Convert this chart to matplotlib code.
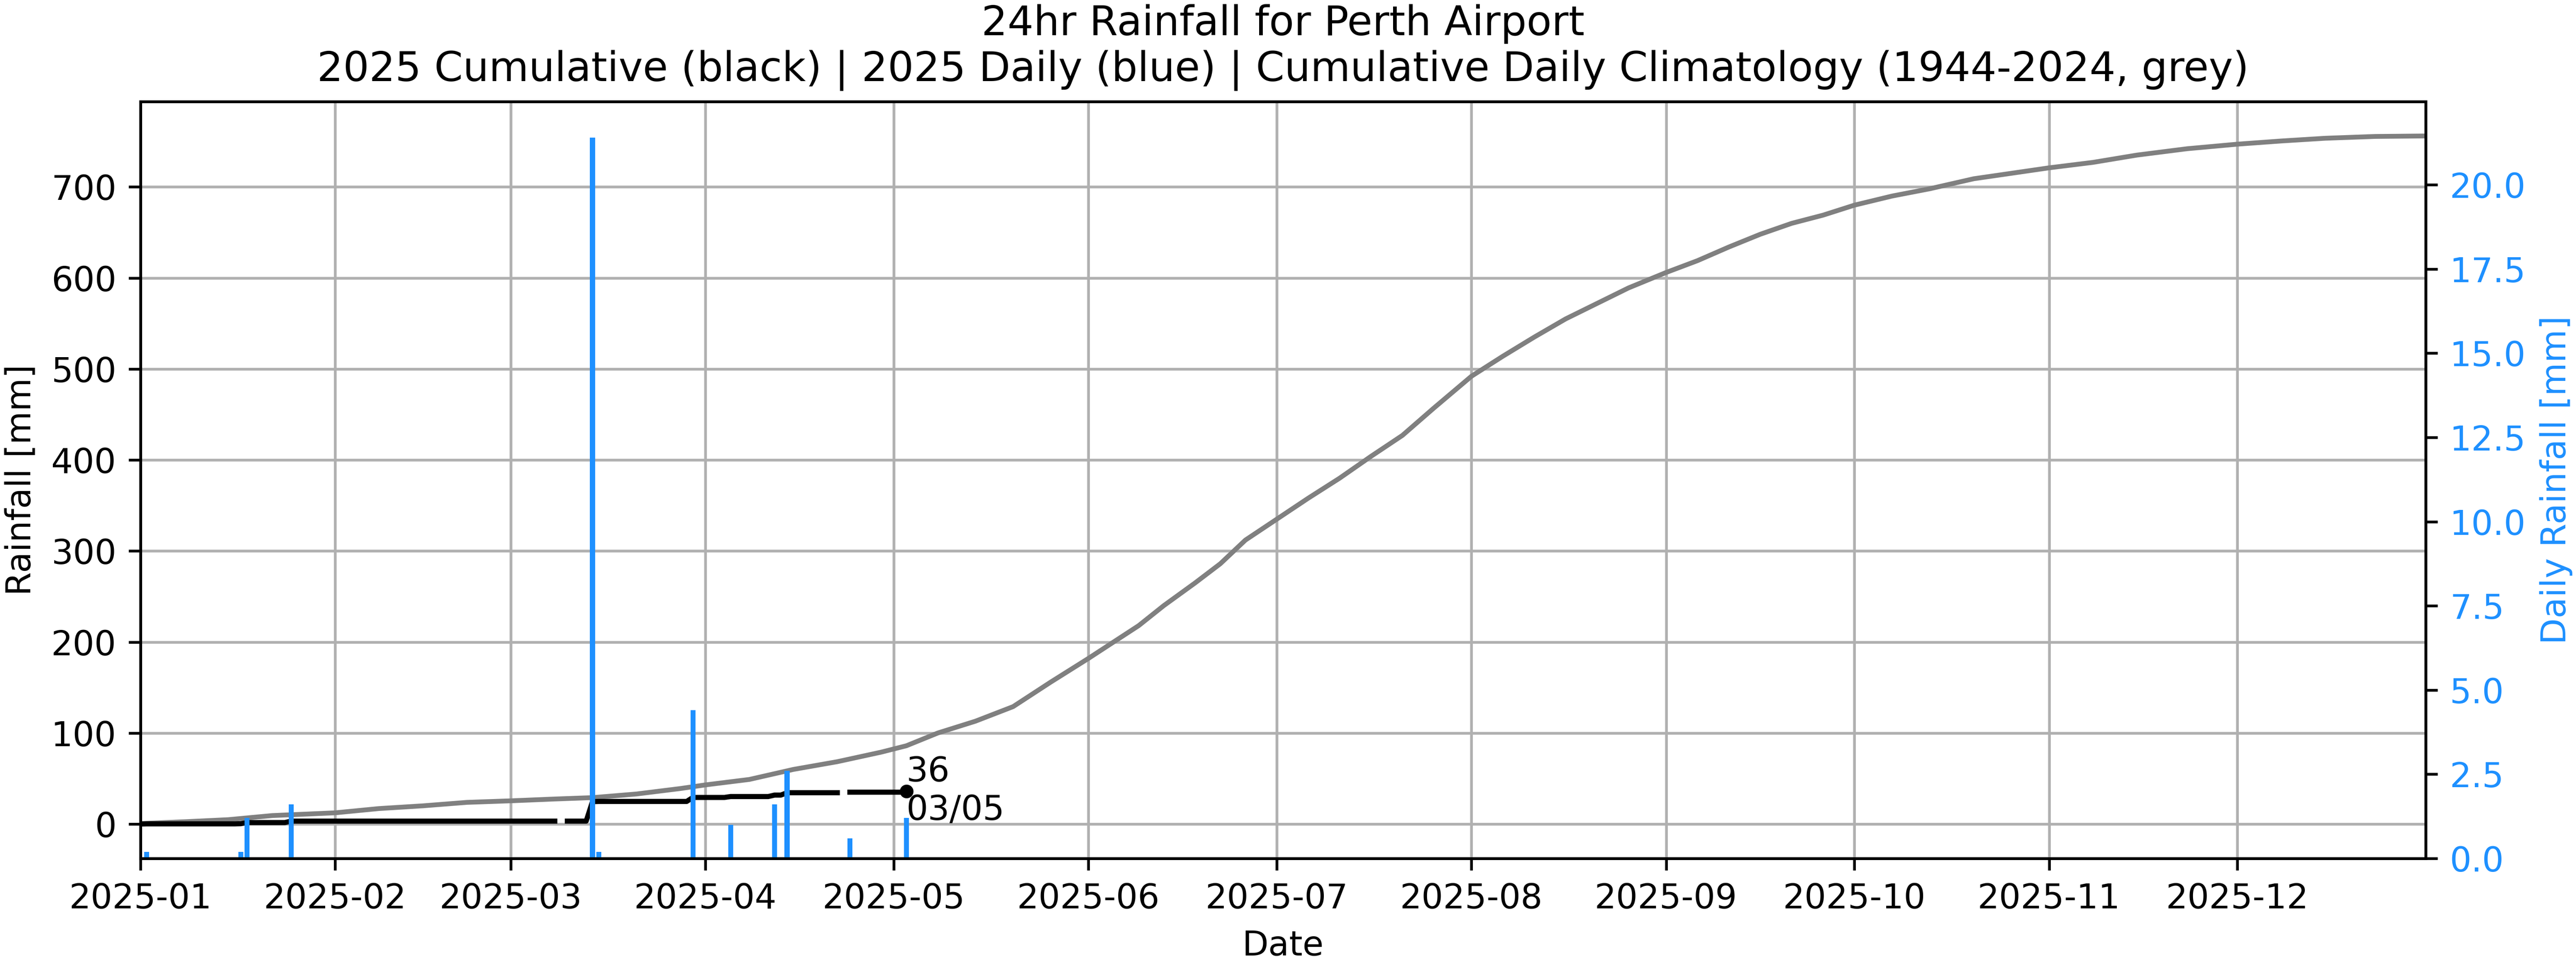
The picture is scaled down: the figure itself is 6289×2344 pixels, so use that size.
import numpy as np
import pandas as pd
import matplotlib
matplotlib.use("Agg")
from matplotlib import pyplot as plt
import matplotlib.dates as mdates

# 2025 daily rainfall at Perth Airport [mm] (days not listed had no rain)
rain_dates = ["2025-01-02", "2025-01-17", "2025-01-18", "2025-01-25",
              "2025-03-14", "2025-03-15", "2025-03-30", "2025-04-05",
              "2025-04-12", "2025-04-14", "2025-04-24", "2025-05-03"]
rain_mm = [0.2, 0.2, 1.2, 1.6,
           21.4, 0.2, 4.4, 1.0,
           1.6, 2.6, 0.6, 1.2]
missing_dates = ["2025-03-09", "2025-04-23"]
first_day = "2025-01-01"
last_day = "2025-05-03"

# cumulative daily climatology 1944-2024 [mm], read at day-of-year offsets
clim_doy = [0, 7, 14, 21, 31, 38, 45, 52, 59, 66, 72, 79, 86, 90, 97, 104,
            111, 118, 122, 127, 133, 139, 145, 151, 155, 159, 163, 168, 172,
            176, 181, 186, 191, 196, 201, 206, 212, 217, 222, 227, 232, 237,
            243, 248, 253, 258, 263, 268, 273, 279, 285, 292, 299, 304, 311,
            318, 326, 334, 341, 348, 356, 364]
clim_mm = [0.5, 2.5, 4.8, 9.3, 12.3, 17, 20, 23.8, 25.5, 27.5, 29, 33, 39,
           43, 49, 60, 68.5, 79, 86, 100, 113, 129, 156, 182, 200, 218, 240,
           265, 286, 312, 335, 358, 380, 404, 427, 457, 492, 514, 535, 555,
           572, 589, 606, 619, 634, 648, 660, 669, 680, 690, 698, 709, 716,
           721, 727, 735, 742, 747, 750.5, 753.5, 755.5, 756]

days = pd.date_range(first_day, last_day, freq="D")
daily = pd.Series(0.0, index=days)
daily[pd.to_datetime(rain_dates)] = rain_mm
daily[pd.to_datetime(missing_dates)] = np.nan
cum = daily.cumsum()  # NaN stays NaN -> gaps in the line

clim_dates = pd.Timestamp(first_day) + pd.to_timedelta(clim_doy, unit="D")

fig, ax = plt.subplots(figsize=(6289 / 600, 2344 / 600))
fig.subplots_adjust(left=0.0545, right=0.9417, bottom=0.1058, top=0.8942)

ax.plot(clim_dates, clim_mm, color="grey", lw=1.4)
ax.plot(cum.index, cum.values, color="black", lw=1.5)
ax.plot(cum.index[-1], cum.iloc[-1], "ko", ms=3)
ax.text(cum.index[-1], cum.iloc[-1],
        "{:.0f}\n{}".format(cum.iloc[-1], cum.index[-1].strftime("%d/%m")),
        ha="left", va="center", fontsize=10)
ax.grid(True)
ax.set_ylabel("Rainfall [mm]")
ax.set_xlabel("Date")

ax2 = ax.twinx()
ax2.bar(daily.index, daily.fillna(0).values, width=0.8, color="dodgerblue")
ax2.set_ylabel("Daily Rainfall [mm]", color="dodgerblue")
ax2.tick_params(axis="y", labelcolor="dodgerblue")

ax.set_xlim(clim_dates[0], clim_dates[-1])
ax.xaxis.set_major_locator(mdates.MonthLocator())
ax.xaxis.set_major_formatter(mdates.DateFormatter("%Y-%m"))

ax.set_title("24hr Rainfall for Perth Airport\n2025 Cumulative (black) | 2025 Daily (blue) | "
             "Cumulative Daily Climatology (1944-2024, grey)")

plt.savefig("out.png", dpi=600)
